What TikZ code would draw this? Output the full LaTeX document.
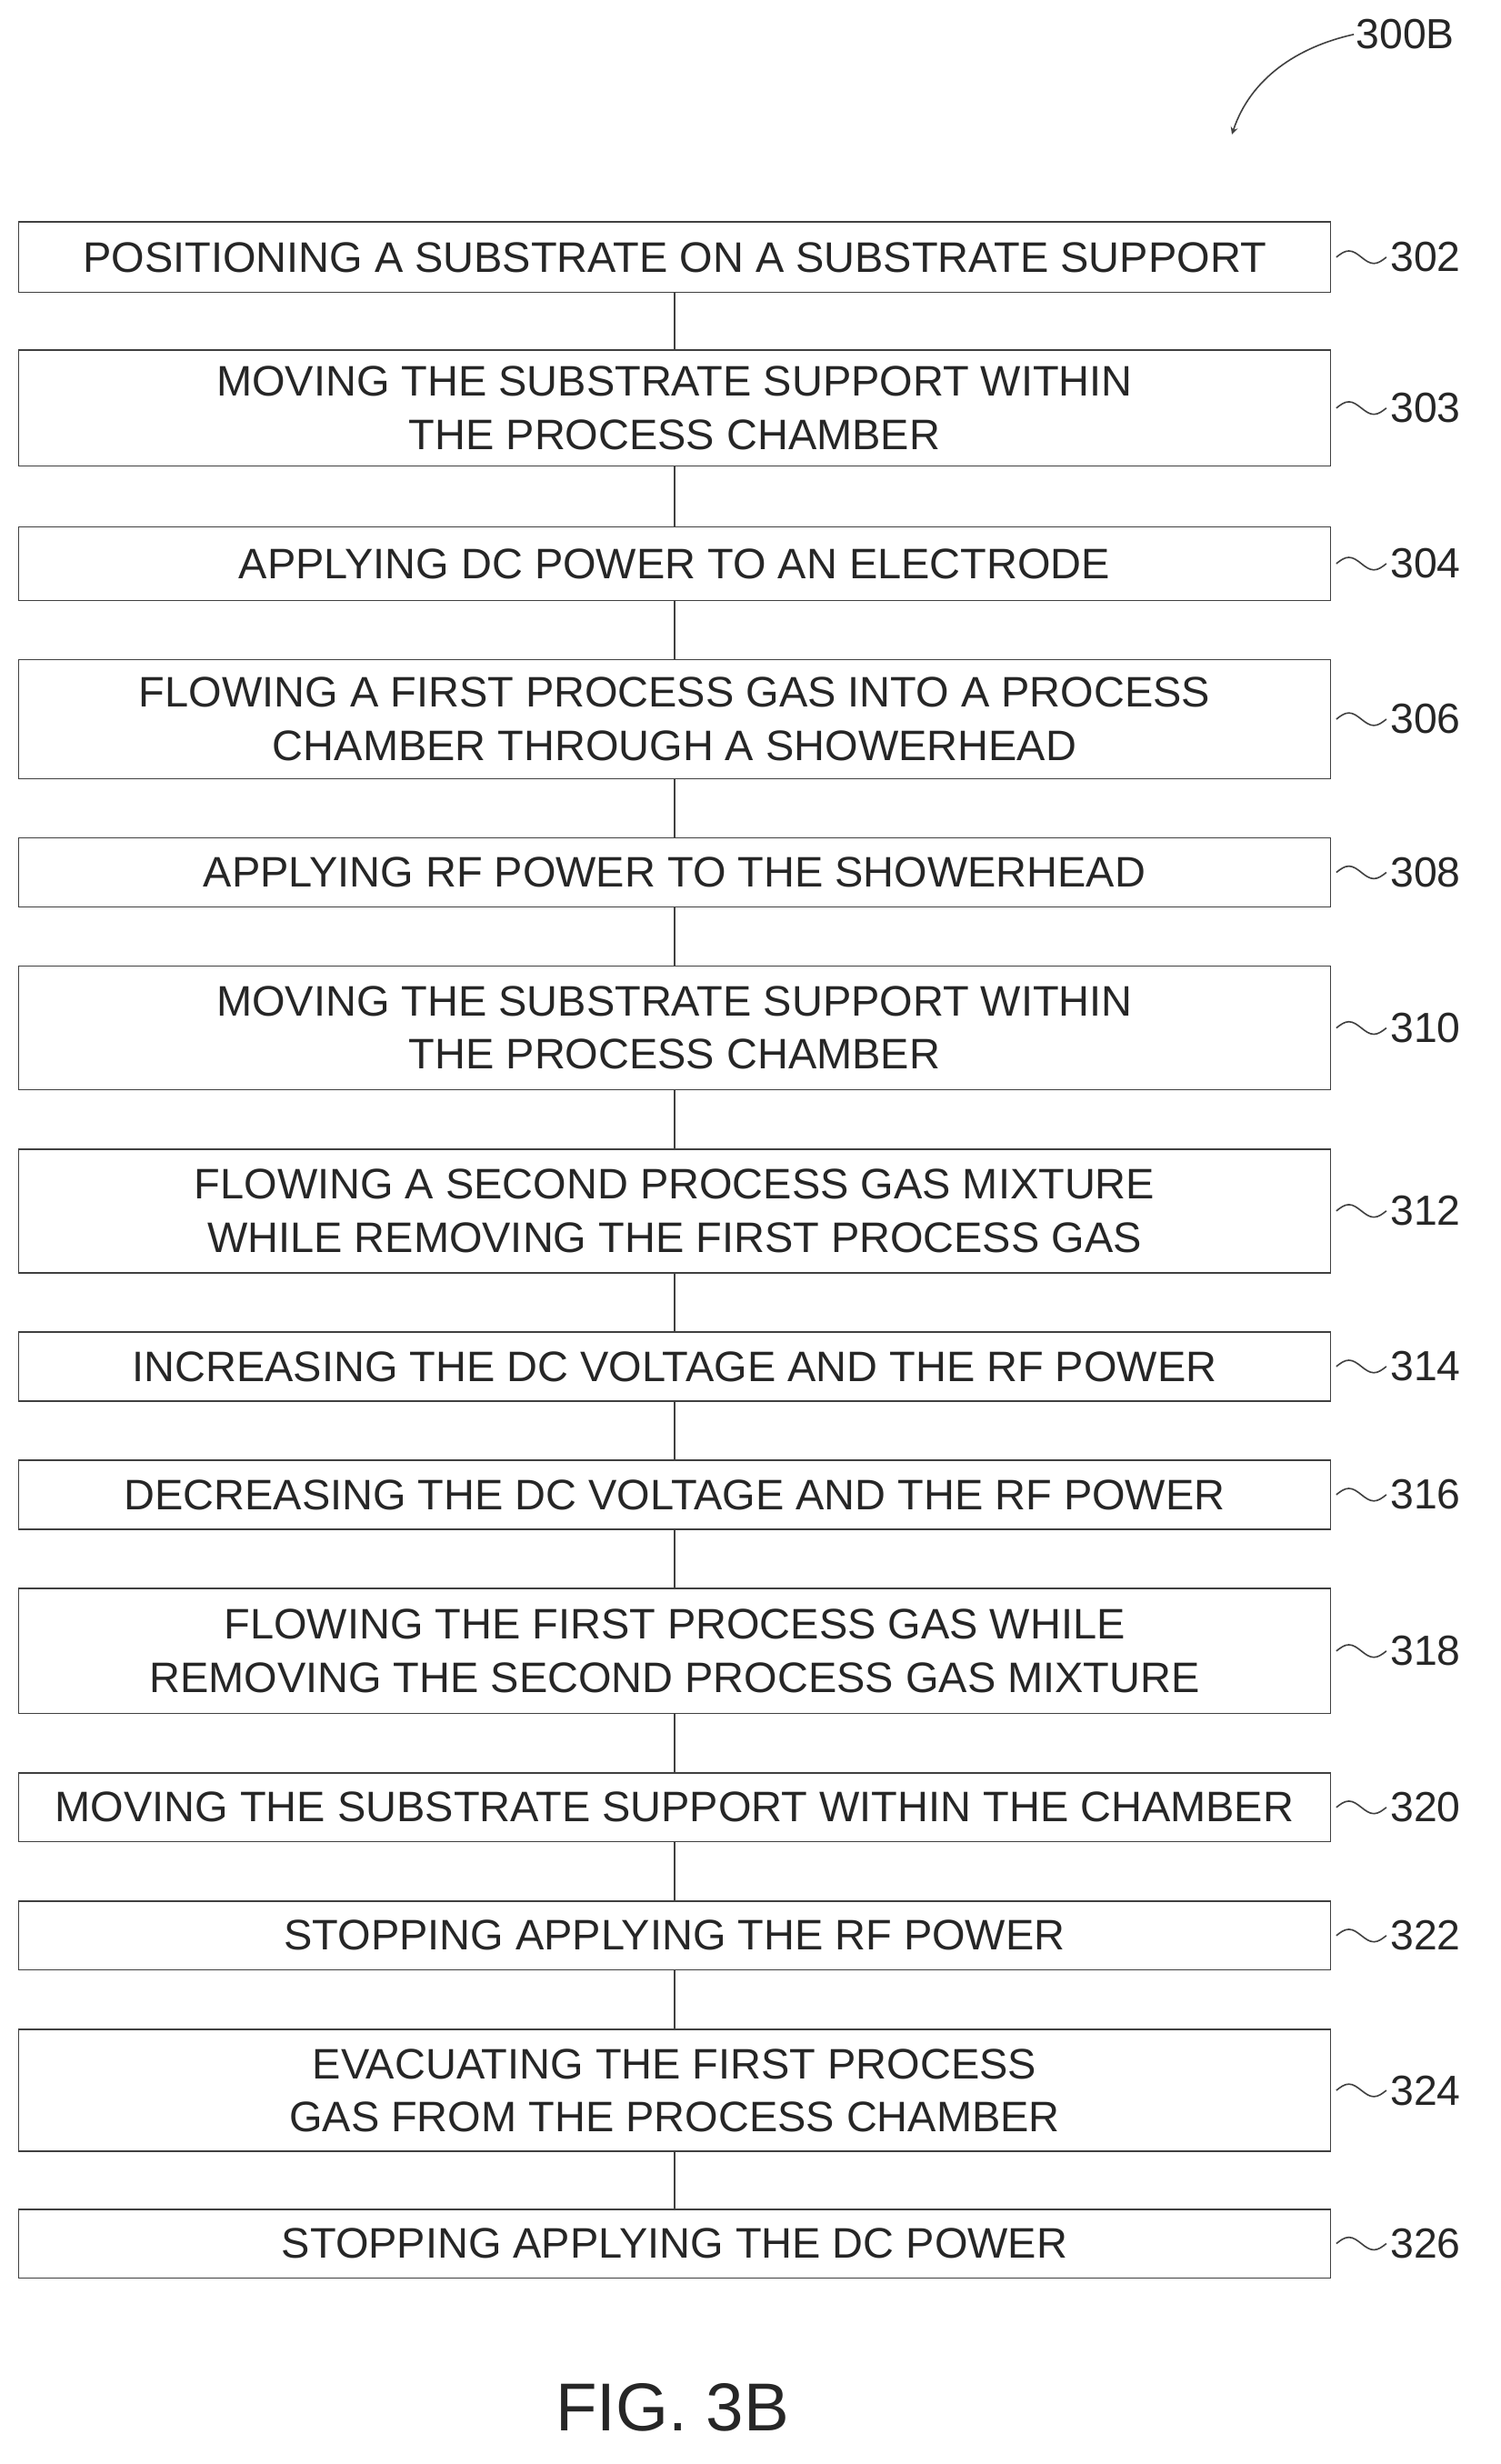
\documentclass[tikz,border=0pt]{standalone}
\usepackage{fontspec}
\setmainfont{Liberation Sans}
\begin{document}
\begin{tikzpicture}[x=0.03cm,y=-0.03cm,
    stepbox/.style={draw=black!75, line width=0.8pt, minimum width=839*0.03cm, inner sep=0pt,
      align=center, font=\fontsize{23.3}{29}\selectfont, text=black!85},
    reflbl/.style={anchor=west, inner sep=1pt, font=\fontsize{23}{26}\selectfont, text=black!85},
    link/.style={draw=black!75, line width=0.8pt}]
  \useasboundingbox (0,0) rectangle (960,1576);
  \foreach \n/\ytop/\ybot/\txt [remember=\n as \prev (initially 0)] in {
      302/142/187/{POSITIONING A SUBSTRATE ON A SUBSTRATE SUPPORT},
      303/224/298/{MOVING THE SUBSTRATE SUPPORT WITHIN\\THE PROCESS CHAMBER},
      304/337/384/{APPLYING DC POWER TO AN ELECTRODE},
      306/422/498/{FLOWING A FIRST PROCESS GAS INTO A PROCESS\\CHAMBER THROUGH A SHOWERHEAD},
      308/536/580/{APPLYING RF POWER TO THE SHOWERHEAD},
      310/618/697/{MOVING THE SUBSTRATE SUPPORT WITHIN\\THE PROCESS CHAMBER},
      312/735/814/{FLOWING A SECOND PROCESS GAS MIXTURE\\WHILE REMOVING THE FIRST PROCESS GAS},
      314/852/896/{INCREASING THE DC VOLTAGE AND THE RF POWER},
      316/934/978/{DECREASING THE DC VOLTAGE AND THE RF POWER},
      318/1016/1096/{FLOWING THE FIRST PROCESS GAS WHILE\\REMOVING THE SECOND PROCESS GAS MIXTURE},
      320/1134/1178/{MOVING THE SUBSTRATE SUPPORT WITHIN THE CHAMBER},
      322/1216/1260/{STOPPING APPLYING THE RF POWER},
      324/1298/1376/{EVACUATING THE FIRST PROCESS\\GAS FROM THE PROCESS CHAMBER},
      326/1413/1457/{STOPPING APPLYING THE DC POWER}} {
    \node[stepbox, minimum height={(\ybot-\ytop)*0.03cm}] (s\n) at (431.5,{(\ytop+\ybot)/2}) {\txt};
    \node[reflbl] (r\n) at (888,{(\ytop+\ybot)/2}) {\n};
    \draw[link] ([xshift=0.1cm]s\n.east) sin ++(8,-4) cos ++(8,4) sin ++(8,4) cos ++(8,-4);
    \ifnum\prev>0 \draw[link] (s\prev.south) -- (s\n.north); \fi
  }
  % figure label and caption
  \node[reflbl] (fig) at (866,22) {300B};
  \coordinate (tip) at (788,86);
  \draw[link, ->, >=stealth] (fig.west) .. controls (830,30) and (800,50) .. (tip);
  \node[font=\fontsize{37}{40}\selectfont, text=black!85] (cap) at (430,1540) {FIG. 3B};
\end{tikzpicture}
\end{document}
